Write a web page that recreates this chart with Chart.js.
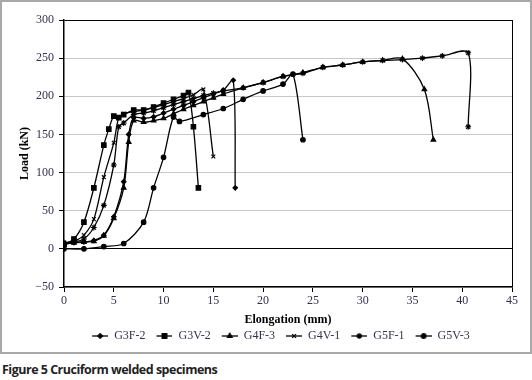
<!DOCTYPE html>
<html>
<head>
<meta charset="utf-8">
<script src="https://cdn.jsdelivr.net/npm/chart.js@4.4.1/dist/chart.umd.min.js"></script>
<style>
  body { margin: 0; background: #fff; }
  #frame { position: absolute; left: 0; top: 0; width: 528px; height: 350px; border: 2px solid #a8a8a8; }
  #caption { position: absolute; left: 2px; top: 361px; font: bold 12.5px "Open Sans", "Liberation Sans", sans-serif; color: #222; letter-spacing: -0.5px; }
</style>
</head>
<body>
<div id="frame"><canvas id="loadChart"></canvas></div>
<div id="caption">Figure 5 Cruciform welded specimens</div>
<script>
const seriesNames = ['G3F-2', 'G3V-2', 'G4F-3', 'G4V-1', 'G5F-1', 'G5V-3'];

const g3f2X = [0, 1, 2, 3, 4, 5, 6, 6.5, 7, 8, 9, 10, 11, 12, 13, 14, 15, 16, 17, 17.2];
const g3f2Y = [7, 8, 9, 11, 18, 42, 88, 150, 172, 171, 173, 178, 183, 188, 193, 198, 203, 208, 221, 80];

const g3v2X = [0, 1, 2, 3, 4, 4.5, 5, 5.5, 6, 7, 8, 9, 10, 11, 12, 12.5, 13, 13.5];
const g3v2Y = [6, 13, 35, 80, 136, 157, 174, 172, 176, 182, 182, 186, 191, 196, 201, 205, 160, 80];

const g4f3X = [0, 1, 2, 3, 4, 5, 6, 6.5, 7, 8, 9, 10, 11, 12, 13, 14, 15, 16, 18, 20, 22, 24, 26, 28, 30, 32, 34, 36.2, 37.1];
const g4f3Y = [6, 8, 9, 10, 17, 40, 80, 140, 168, 166, 168, 171, 177, 183, 188, 193, 198, 203, 211, 218, 226, 231, 238, 241, 245, 247, 249, 209, 143];

const g4v1X = [0, 1, 2, 3, 4, 5, 5.5, 6, 7, 8, 9, 10, 11, 12, 13, 14, 15];
const g4v1Y = [8, 10, 18, 39, 94, 139, 172, 177, 180, 182, 185, 189, 193, 197, 202, 209, 121];

const g5f1X = [0, 1, 2, 3, 4, 5, 5.5, 6, 7, 8, 9, 10, 11, 12, 13, 14, 15, 16, 18, 20, 22, 24, 26, 28, 30, 32, 34, 36, 38, 40.6, 40.6];
const g5f1Y = [8, 9, 13, 28, 57, 110, 160, 165, 176, 178, 181, 185, 189, 193, 197, 201, 204, 207, 211, 218, 226, 230, 238, 241, 245, 247, 248, 250, 253, 257, 160];

const g5v3X = [0, 2, 4, 6, 8, 9, 10, 11, 11.6, 14, 16, 18, 20, 22, 23, 24];
const g5v3Y = [0, 0, 3, 7, 35, 80, 120, 173, 167, 176, 184, 196, 207, 216, 229, 143];

const xTicks = [0, 5, 10, 15, 20, 25, 30, 35, 40, 45];
const yTicks = [-50, 0, 50, 100, 150, 200, 250, 300];

const allX = [g3f2X, g3v2X, g4f3X, g4v1X, g5f1X, g5v3X];
const allY = [g3f2Y, g3v2Y, g4f3Y, g4v1Y, g5f1Y, g5v3Y];
const markers = [
    { style: 'rectRot', radius: 2.3 },
    { style: 'rect', radius: 3.2 },
    { style: 'triangle', radius: 2.7 },
    { style: 'crossRot', radius: 2.7 },
    { style: 'star', radius: 2.9 },
    { style: 'circle', radius: 2.3 }
];

const serif = '"Liberation Serif", "DejaVu Serif", serif';
const tickColor = '#2f3350';

// line-with-marker picture for each legend entry, drawn in the right part of the box
function legendIcon(marker) {
    const c = document.createElement('canvas');
    c.width = 24; c.height = 10;
    const g = c.getContext('2d');
    g.strokeStyle = '#000';
    g.lineWidth = 1.3;
    g.beginPath(); g.moveTo(8, 5); g.lineTo(24, 5); g.stroke();
    g.fillStyle = '#000';
    Chart.helpers.drawPoint(g, { pointStyle: marker.style, radius: marker.radius, borderWidth: 1.2, rotation: 0 }, 16, 5);
    g.fill();
    return c;
}

const datasets = seriesNames.map((name, i) => ({
    label: name,
    data: allX[i].map((x, j) => ({ x: x, y: allY[i][j] })),
    borderColor: '#000',
    backgroundColor: '#000',
    borderWidth: 1.3,
    pointStyle: markers[i].style,
    pointRadius: markers[i].radius,
    pointBorderWidth: 1.1,
    tension: 0.3,
    showLine: true
}));

const axisGrid = (normal, strong) => ({
    color: ctx => strong.includes(ctx.tick.value) ? '#000' : normal,
    tickColor: '#000',
    tickLength: 5
});

const shiftLegend = {
    id: 'shiftLegend',
    afterLayout(chart) {
        chart.legend.left += 20;
        chart.legend.right += 20;
    }
};

new Chart(document.getElementById('loadChart'), {
    type: 'scatter',
    data: { datasets: datasets },
    options: {
        responsive: true,
        maintainAspectRatio: false,
        animation: false,
        layout: { padding: { left: 0, right: 18, top: 18, bottom: 0 } },
        scales: {
            x: {
                type: 'linear',
                min: 0, max: 45,
                afterBuildTicks: s => { s.ticks = xTicks.map(v => ({ value: v })); },
                afterFit: s => { s.height = 40; },
                grid: axisGrid('rgba(0,0,0,0)', [45]),
                border: { color: '#000', width: 1.5 },
                ticks: { color: tickColor, font: { family: serif, size: 12 }, padding: 2 },
                title: { display: true, text: 'Elongation (mm)', color: '#000', font: { family: serif, size: 12, weight: 'bold' }, padding: { top: 0, bottom: 0 } }
            },
            y: {
                min: -50, max: 300,
                afterBuildTicks: s => { s.ticks = yTicks.map(v => ({ value: v })); },
                afterFit: s => { s.width = 62; },
                grid: axisGrid('#c8c8c8', [0, 300]),
                border: { color: '#000', width: 1.5 },
                ticks: {
                    color: tickColor, font: { family: serif, size: 12 }, padding: 5,
                    callback: v => v < 0 ? '\u2212' + Math.abs(v) : v
                },
                title: { display: true, text: 'Load (kN)', color: '#000', font: { family: serif, size: 12, weight: 'bold' }, padding: { top: 16, bottom: 0 } }
            }
        },
        plugins: {
            legend: {
                position: 'bottom',
                labels: {
                    usePointStyle: true,
                    pointStyleWidth: 24,
                    padding: 3,
                    color: tickColor,
                    font: { family: serif, size: 12 },
                    generateLabels: chart => chart.data.datasets.map((d, i) => ({
                        text: d.label,
                        pointStyle: legendIcon(markers[i]),
                        fontColor: tickColor,
                        lineWidth: 0,
                        strokeStyle: '#000',
                        fillStyle: '#000',
                        datasetIndex: i
                    }))
                }
            },
            tooltip: { enabled: false }
        }
    },
    plugins: [shiftLegend]
});
</script>
</body>
</html>
